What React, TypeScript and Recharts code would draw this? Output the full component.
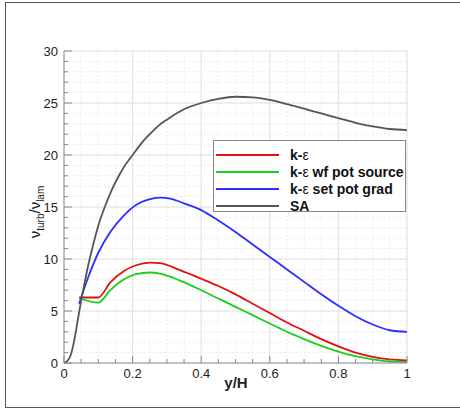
import React from "react";
import {
  CartesianGrid,
  Line,
  LineChart,
  ReferenceLine,
  XAxis,
  YAxis,
} from "recharts";

const saX = [0, 0.01, 0.02, 0.03, 0.04, 0.05, 0.06, 0.07, 0.08, 0.09, 0.1, 0.12, 0.14, 0.16, 0.18, 0.2, 0.225, 0.25, 0.275, 0.3, 0.35, 0.4, 0.45, 0.5, 0.55, 0.6, 0.65, 0.7, 0.75, 0.8, 0.85, 0.9, 0.95, 1.0];
const saY = [0, 0.2, 0.8, 2.2, 4.1, 6.0, 7.7, 9.3, 10.7, 12.0, 13.2, 15.1, 16.7, 18.0, 19.1, 20.0, 21.1, 22.0, 22.8, 23.4, 24.4, 25.0, 25.4, 25.6, 25.55, 25.3, 24.9, 24.45, 24.0, 23.55, 23.1, 22.75, 22.5, 22.4];

const blueX = [0.044, 0.07, 0.1, 0.135, 0.175, 0.21, 0.245, 0.28, 0.31, 0.35, 0.4, 0.45, 0.5, 0.55, 0.6, 0.65, 0.7, 0.75, 0.8, 0.85, 0.9, 0.95, 1.0];
const blueY = [5.7, 8.2, 10.6, 12.6, 14.2, 15.2, 15.7, 15.9, 15.8, 15.35, 14.7, 13.7, 12.6, 11.4, 10.2, 9.0, 7.8, 6.6, 5.5, 4.5, 3.7, 3.15, 3.0];

const redX = [0.044, 0.1, 0.135, 0.175, 0.21, 0.25, 0.28, 0.34, 0.4, 0.45, 0.5, 0.55, 0.6, 0.65, 0.7, 0.75, 0.8, 0.85, 0.9, 0.95, 1.0];
const redY = [6.3, 6.3, 7.75, 8.85, 9.4, 9.65, 9.6, 8.9, 8.1, 7.4, 6.6, 5.7, 4.8, 3.9, 3.1, 2.3, 1.6, 1.0, 0.6, 0.35, 0.25];

const greenX = [0.044, 0.1, 0.135, 0.175, 0.21, 0.25, 0.28, 0.34, 0.4, 0.45, 0.5, 0.55, 0.6, 0.65, 0.7, 0.75, 0.8, 0.85, 0.9, 0.95, 1.0];
const greenY = [6.25, 5.8, 7.0, 8.05, 8.55, 8.7, 8.6, 7.9, 7.0, 6.2, 5.4, 4.6, 3.8, 3.0, 2.3, 1.65, 1.1, 0.65, 0.35, 0.15, 0.1];

const xTicks = [0, 0.05, 0.1, 0.15, 0.2, 0.25, 0.3, 0.35, 0.4, 0.45, 0.5, 0.55, 0.6, 0.65, 0.7, 0.75, 0.8, 0.85, 0.9, 0.95, 1];
const xMajor = [0, 0.2, 0.4, 0.6, 0.8, 1];
const yTicks = Array.from({ length: 31 }, (_, i) => i);
const yMajor = [0, 5, 10, 15, 20, 25, 30];

const zip = (xs: number[], ys: number[]) => xs.map((x, i) => ({ x, y: ys[i] }));

const series = [
  { name: "k-", eps: true, rest: "", color: "#e01010", data: zip(redX, redY) },
  { name: "k-", eps: true, rest: " wf pot source", color: "#18d018", data: zip(greenX, greenY) },
  { name: "k-", eps: true, rest: " set pot grad", color: "#2d2dff", data: zip(blueX, blueY) },
  { name: "SA", eps: false, rest: "", color: "#555555", data: zip(saX, saY) },
];

const font = "'Liberation Sans', Arial, sans-serif";
const isMajor = (v: number, list: number[]) => list.some((m) => Math.abs(m - v) < 1e-6);

function XTick(props: any) {
  const { x, y, payload } = props;
  const major = isMajor(payload.value, xMajor);
  return (
    <g>
      <line x1={x} x2={x} y1={y} y2={y - (major ? 7 : 4)} stroke="#888" />
      {major && (
        <text x={x} y={y + 15} textAnchor="middle" fontSize={13} fontFamily={font} fill="#222">
          {payload.value}
        </text>
      )}
    </g>
  );
}

function YTick(props: any) {
  const { x, y, payload } = props;
  const major = isMajor(payload.value, yMajor);
  return (
    <g>
      <line x1={x} x2={x + (major ? 8 : 4)} y1={y} y2={y} stroke="#888" />
      {major && (
        <text x={x - 6} y={y + 5} textAnchor="end" fontSize={13} fontFamily={font} fill="#222">
          {payload.value}
        </text>
      )}
    </g>
  );
}

export default function App() {
  return (
    <div style={{ position: "relative", width: 460, height: 411, background: "#fff" }}>
      <style>{"body{margin:0}"}</style>
      <div
        style={{
          position: "absolute",
          left: 5,
          top: 2,
          width: 460,
          height: 404,
          borderLeft: "1.5px solid #555",
          borderTop: "1.5px solid #555",
          borderBottom: "1.5px solid #555",
        }}
      />
      <LineChart width={460} height={411} margin={{ top: 51, right: 53, bottom: 0, left: 0 }}>
        <CartesianGrid stroke="#ececec" strokeDasharray="2 2" />
        {xMajor.slice(1).map((v) => (
          <ReferenceLine key={"vx" + v} x={v} stroke="#e2e2e2" />
        ))}
        {yMajor.slice(1).map((v) => (
          <ReferenceLine key={"hy" + v} y={v} stroke="#e2e2e2" />
        ))}
        <XAxis
          type="number"
          dataKey="x"
          domain={[0, 1]}
          ticks={xTicks}
          interval={0}
          height={48}
          tickSize={0}
          tickMargin={0}
          tickLine={false}
          axisLine={{ stroke: "#888" }}
          tick={<XTick />}
          allowDuplicatedCategory={false}
        />
        <YAxis
          type="number"
          domain={[0, 30]}
          ticks={yTicks}
          interval={0}
          width={64}
          tickSize={0}
          tickMargin={0}
          tickLine={false}
          axisLine={{ stroke: "#888" }}
          tick={<YTick />}
        />
        {series.map((s, i) => (
          <Line
            key={i}
            data={s.data}
            dataKey="y"
            type="monotone"
            stroke={s.color}
            strokeWidth={1.8}
            dot={false}
            isAnimationActive={false}
          />
        ))}
      </LineChart>
      <svg style={{ position: "absolute", left: 0, top: 0 }} width={460} height={411}>
        <text
          transform="translate(40,212) rotate(-90)"
          textAnchor="middle"
          fontFamily={font}
          fontSize={15}
          fill="#222"
        >
          ν<tspan fontSize={10} dy={4}>turb</tspan>
          <tspan dy={-4}>/ν</tspan>
          <tspan fontSize={10} dy={4}>lam</tspan>
        </text>
        <text x={236} y={388} textAnchor="middle" fontFamily={font} fontSize={15} fontWeight="bold" fill="#222">
          y/H
        </text>
      </svg>
      <div
        style={{
          position: "absolute",
          left: 213,
          top: 140,
          width: 193,
          height: 72,
          border: "1px solid #888",
          background: "#fff",
          fontFamily: font,
          fontSize: 14,
          fontWeight: "bold",
          color: "#111",
          paddingTop: 5,
          boxSizing: "border-box",
        }}
      >
        {series.map((s, i) => (
          <div key={i} style={{ display: "flex", alignItems: "center", height: 17 }}>
            <div style={{ marginLeft: 2, width: 63, height: 2, background: s.color }} />
            <span style={{ marginLeft: 11, whiteSpace: "nowrap" }}>
              {s.name}
              {s.eps && <span style={{ fontWeight: "normal" }}>ε</span>}
              {s.rest}
            </span>
          </div>
        ))}
      </div>
    </div>
  );
}
